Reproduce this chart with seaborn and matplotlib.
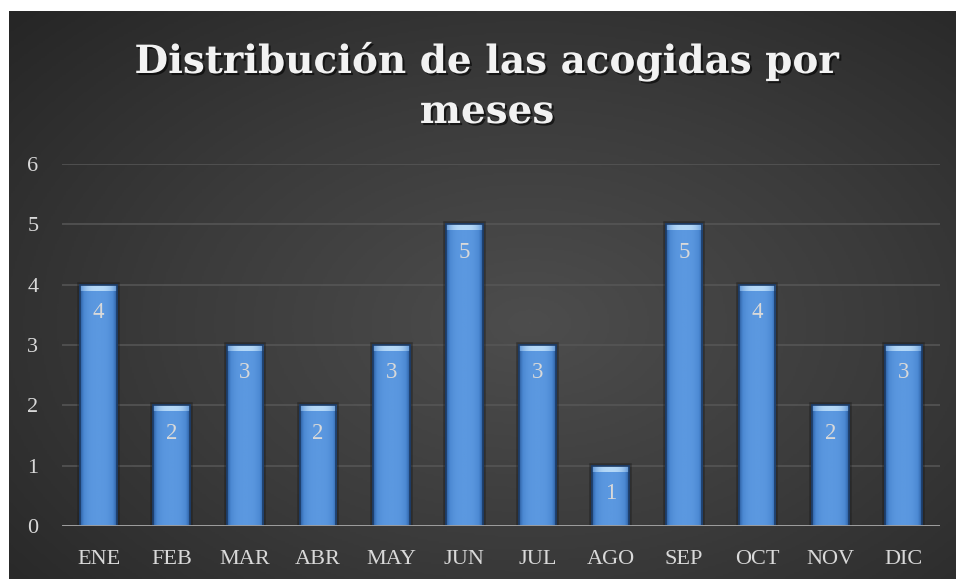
import numpy as np
import pandas as pd
import matplotlib
matplotlib.use("Agg")
import matplotlib.pyplot as plt
import matplotlib.patheffects as pe
from matplotlib.colors import LinearSegmentedColormap
import seaborn as sns

# data
meses = ["ENE", "FEB", "MAR", "ABR", "MAY", "JUN", "JUL", "AGO", "SEP", "OCT", "NOV", "DIC"]
acogidas = [4, 2, 3, 2, 3, 5, 3, 1, 5, 4, 2, 3]
titulo = ["Distribución de las acogidas por", "meses"]
y_ticks = [0, 1, 2, 3, 4, 5, 6]

sns.set_theme(style="dark")
plt.rcParams["font.family"] = ["Liberation Serif", "DejaVu Serif"]

W, H = 956, 579
fig = plt.figure(figsize=(W / 100, H / 100), dpi=100)
fig.patch.set_facecolor("white")

# dark radial background (chart area starts a few px in from left/top)
bg = fig.add_axes([9 / W, 0, 1 - 9 / W, 1 - 11 / H])
bg.set_axis_off()
yy, xx = np.mgrid[0:1:300j, 0:1:500j]
r = np.sqrt(((xx - 0.55) / 0.75) ** 2 + ((yy - 0.55) / 0.8) ** 2)
bg_cmap = LinearSegmentedColormap.from_list("bg", ["#4d4d4d", "#3b3b3b", "#262626"])
bg.imshow(r, cmap=bg_cmap, aspect="auto", extent=[0, 1, 0, 1], vmin=0, vmax=1.0)

ax = fig.add_axes([62 / W, 53 / H, (940 - 62) / W, (526 - 164) / H])
ax.set_facecolor("none")

df = pd.DataFrame({"mes": meses, "acogidas": acogidas})
sns.barplot(data=df, x="mes", y="acogidas", color="#4a87d4", width=0.5,
            edgecolor="#1d3c66", linewidth=1.2, ax=ax, zorder=3)

# bevel-like gradient fill clipped to each bar
prof = np.linspace(-1, 1, 60)
horiz = 1 - np.abs(prof) ** 3
bar_cmap = LinearSegmentedColormap.from_list("bar", ["#2b5c9e", "#4b88d2", "#5b98e0"])
hl_cmap = LinearSegmentedColormap.from_list("hl", ["#5f95d6", "#b4d8f7"])
for p in list(ax.patches):
    x0, y0 = p.get_x(), p.get_y()
    w, h = p.get_width(), p.get_height()
    # soft dark halo behind each bar
    ax.add_patch(plt.Rectangle((x0, y0), w, h, fill=False, edgecolor="#1a1a1a",
                               linewidth=4, alpha=0.45, zorder=2.9))
    im = ax.imshow(np.tile(horiz, (100, 1)), cmap=bar_cmap, vmin=0, vmax=1, aspect="auto",
                   extent=[x0, x0 + w, y0, y0 + h], zorder=3.5, interpolation="bilinear")
    im.set_clip_path(p)
    # top highlight
    top = ax.imshow(np.tile(horiz, (10, 1)), cmap=hl_cmap, vmin=0, vmax=1, aspect="auto",
                    zorder=3.6, extent=[x0, x0 + w, y0 + h - 0.1, y0 + h],
                    interpolation="bilinear")
    top.set_clip_path(p)
    ax.add_patch(plt.Rectangle((x0, y0), w, h, fill=False, edgecolor="#1d3c66",
                               linewidth=1.2, zorder=3.8))

for i, v in enumerate(acogidas):
    ax.annotate(str(v), (i, v), xytext=(0, -20), textcoords="offset points",
                ha="center", va="center", color="#d9d9d9", fontsize=16.5, zorder=5)

ax.set_ylim(0, 6)
ax.set_xlim(-0.5, len(meses) - 0.5)
ax.set_yticks(y_ticks)
ax.yaxis.grid(True, color="#575757", linewidth=1.1, zorder=0)
ax.xaxis.grid(False)
ax.axhline(0, color="#a6a6a6", linewidth=2, zorder=4)
for s in ax.spines.values():
    s.set_visible(False)
ax.tick_params(axis="both", colors="#d9d9d9", labelsize=16, length=0)
ax.tick_params(axis="x", pad=17)
ax.tick_params(axis="y", pad=17)
ax.set_xlabel("")
ax.set_ylabel("")

title_fx = [pe.withSimplePatchShadow(offset=(1.5, -1.5), shadow_rgbFace="black", alpha=0.6)]
fig.text(487 / W, 1 - 73 / H, titulo[0], ha="center", va="baseline", color="#f2f2f2",
         fontsize=28, fontweight="bold", family=["DejaVu Serif"], path_effects=title_fx)
fig.text(487 / W, 1 - 123 / H, titulo[1], ha="center", va="baseline", color="#f2f2f2",
         fontsize=28, fontweight="bold", family=["DejaVu Serif"], path_effects=title_fx)

fig.savefig("out.png", dpi=100)
